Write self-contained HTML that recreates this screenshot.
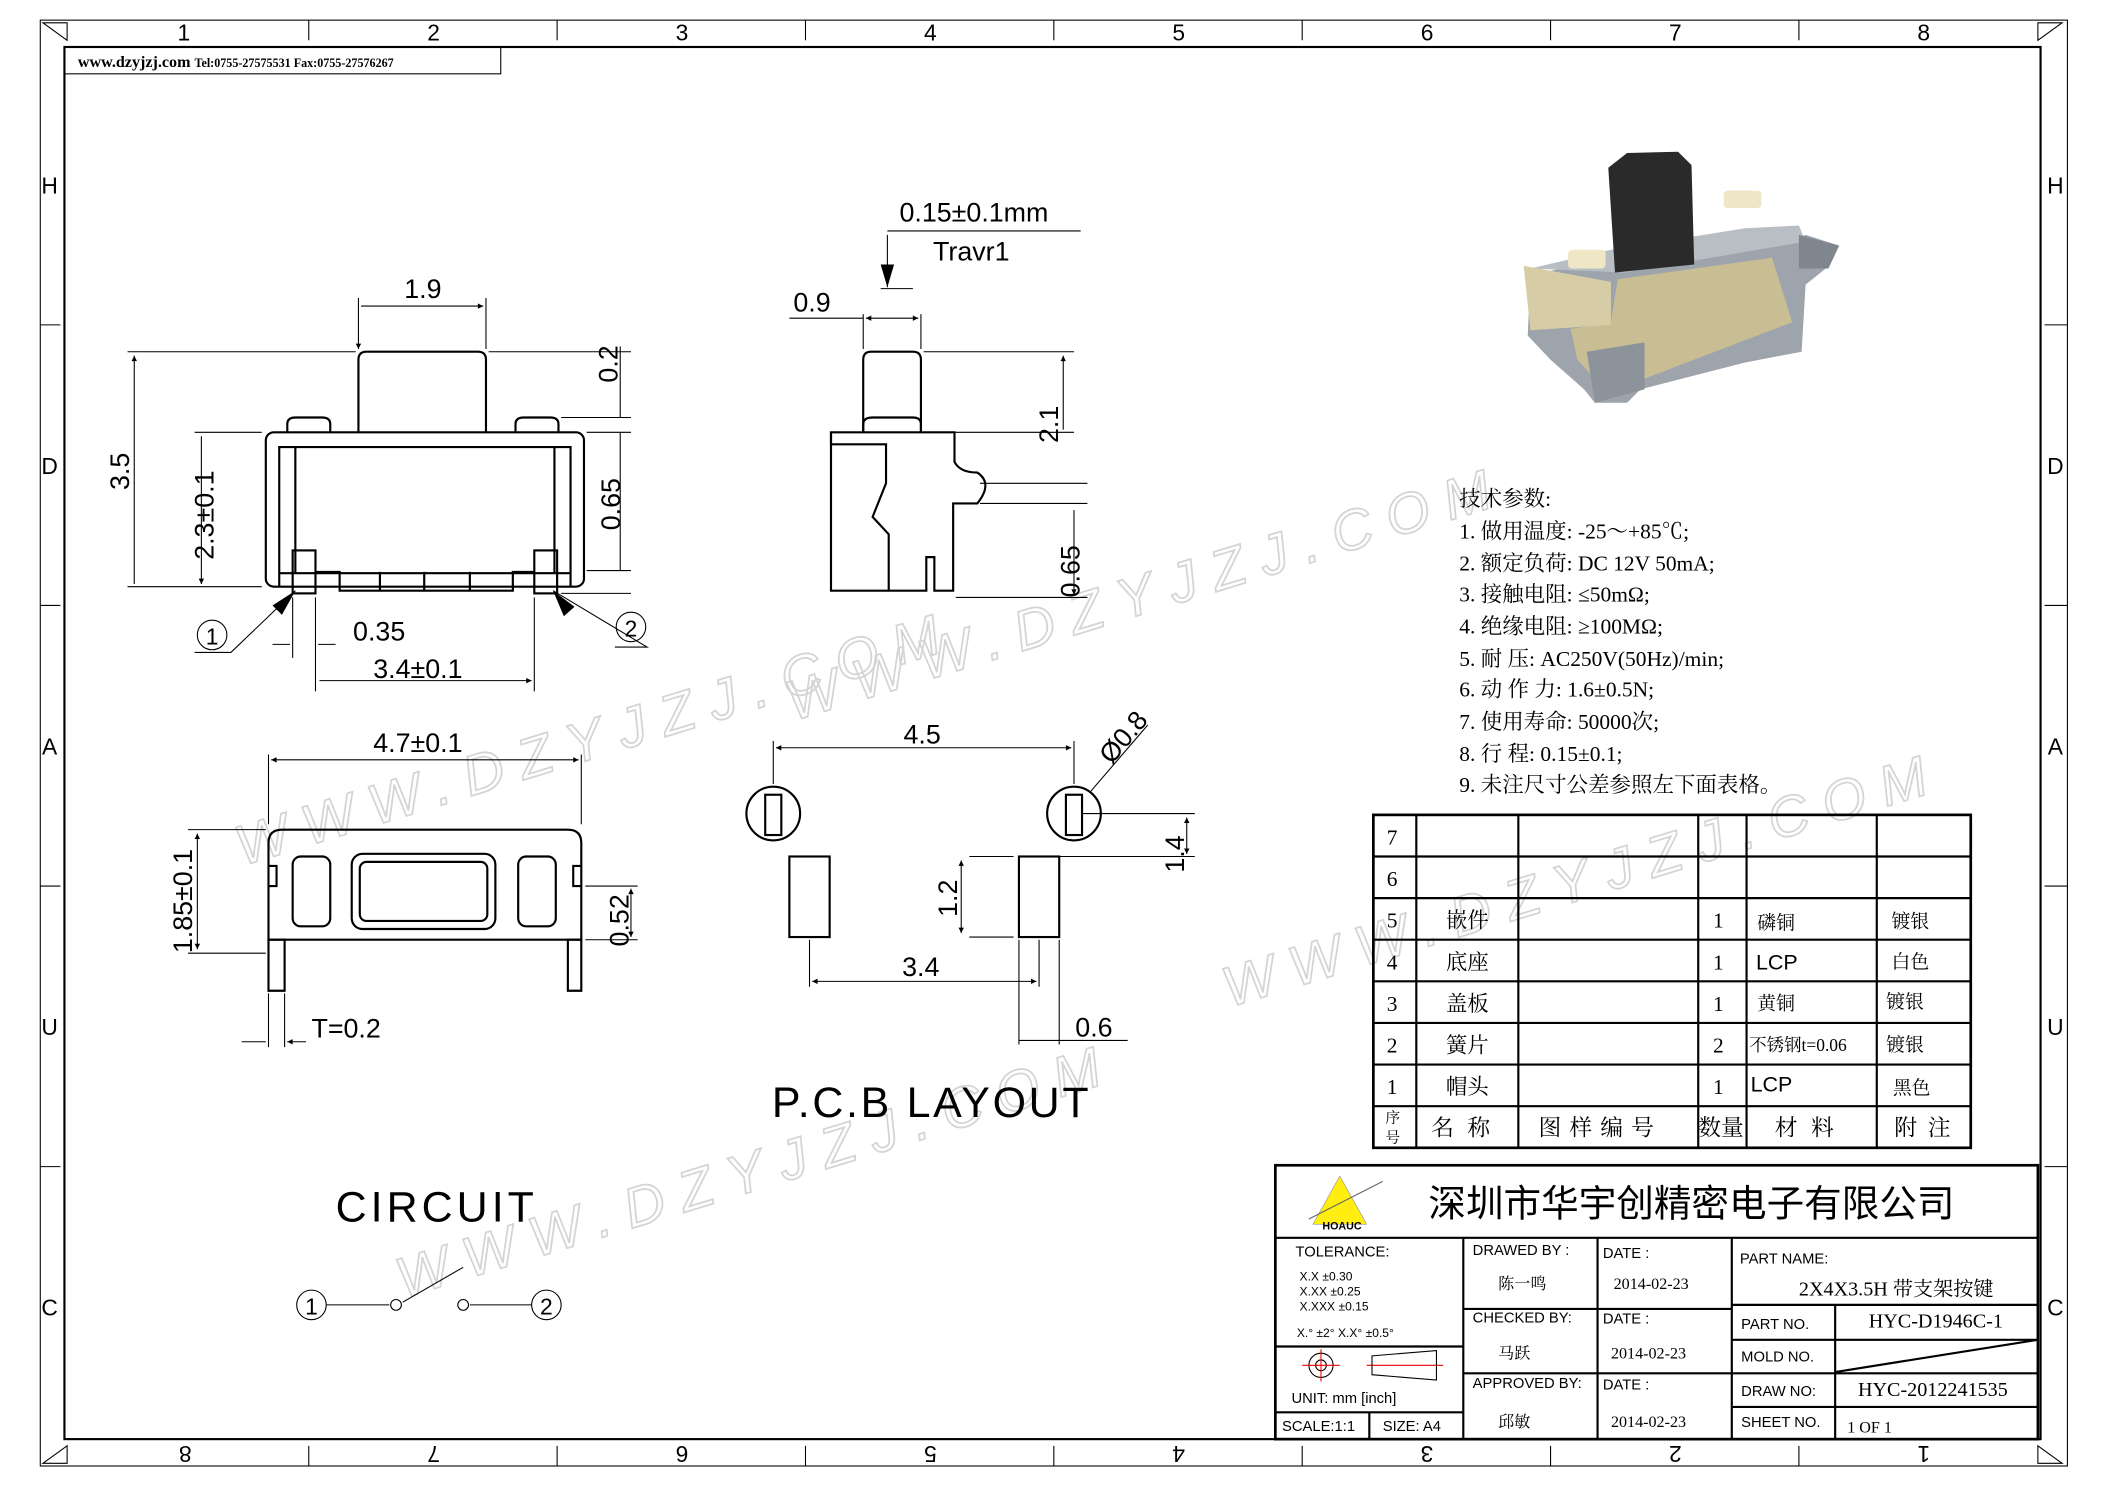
<!DOCTYPE html>
<html><head><meta charset="utf-8"><style>
html,body{margin:0;padding:0;background:#fff;}
svg{display:block}
text{font-family:"Liberation Sans","Noto Sans CJK SC",sans-serif;fill:#000}
.s text, text.s{font-family:"Liberation Serif","Noto Serif CJK SC",serif}
.ln{stroke:#000;fill:none;stroke-width:1.6}
.th{stroke:#000;fill:none;stroke-width:0.8}
text.wm{fill:none;stroke:#d4d4d4;stroke-width:1.3;font-family:"Liberation Sans",sans-serif;font-size:42px;letter-spacing:12px;font-style:italic}
</style></head><body>
<svg width="2105" height="1488" viewBox="0 0 1568 1108.4" preserveAspectRatio="none" xmlns="http://www.w3.org/2000/svg">
<defs><marker id="a" viewBox="0 0 10 10" refX="10" refY="5" markerWidth="8" markerHeight="5" orient="auto-start-reverse"><path d="M0,0L10,5L0,10z" fill="#000"/></marker></defs>
<!-- watermarks -->
<g transform="rotate(-17 450 500)"><text class="wm" x="150" y="560">WWW.DZYJZJ.COM</text></g>
<g transform="rotate(-17 800 400)"><text class="wm" x="560" y="470">WWW.DZYJZJ.COM</text></g>
<g transform="rotate(-17 600 750)"><text class="wm" x="250" y="870">WWW.DZYJZJ.COM</text></g>
<g transform="rotate(-17 1100 600)"><text class="wm" x="880" y="690">WWW.DZYJZJ.COM</text></g>
<!-- frame -->
<rect x="30" y="15" width="1510" height="1077" class="th"/>
<rect x="48" y="35" width="1472" height="1037" class="ln" stroke-width="2"/>
<path d="M32,17 L50,30 L50,17 z M1536,17 L1518,30 L1518,17z M32,1090 L50,1077 L50,1090z M1536,1090 L1518,1077 L1518,1090z" class="th"/>
<g class="th">
<path d="M230,15V30M415,15V30M600,15V30M785,15V30M970,15V30M1155,15V30M1340,15V30"/>
<path d="M230,1077V1092M415,1077V1092M600,1077V1092M785,1077V1092M970,1077V1092M1155,1077V1092M1340,1077V1092"/>
<path d="M30,242H45M30,451H45M30,660H45M30,869H45M1523,242H1540M1523,451H1540M1523,660H1540M1523,869H1540"/>
</g>
<g font-size="17" text-anchor="middle">
<text x="137" y="30">1</text><text x="323" y="30">2</text><text x="508" y="30">3</text><text x="693" y="30">4</text><text x="878" y="30">5</text><text x="1063" y="30">6</text><text x="1248" y="30">7</text><text x="1433" y="30">8</text>
<g transform="rotate(180 784 1083)"><text x="135" y="1089">1</text><text x="320" y="1089">2</text><text x="505" y="1089">3</text><text x="690" y="1089">4</text><text x="875" y="1089">5</text><text x="1060" y="1089">6</text><text x="1245" y="1089">7</text><text x="1430" y="1089">8</text></g>
<text x="37" y="144">H</text><text x="37" y="353">D</text><text x="37" y="562">A</text><text x="37" y="771">U</text><text x="37" y="980">C</text>
<text x="1531" y="144">H</text><text x="1531" y="353">D</text><text x="1531" y="562">A</text><text x="1531" y="771">U</text><text x="1531" y="980">C</text>
</g>
<rect x="48" y="35" width="325" height="20" class="th"/>
<text class="s" x="58" y="50" font-size="12" font-weight="bold">www.dzyjzj.com <tspan font-size="9">Tel:0755-27575531  Fax:0755-27576267</tspan></text>

<!-- top view -->
<g class="ln">
<path d="M267,322V268Q267,262 273,262H356Q362,262 362,268V322"/>
<path d="M214,322V316Q214,311 220,311H240Q246,311 246,316V322M384,322V316Q384,311 390,311H410Q416,311 416,316V322"/>
<rect x="198" y="322" width="237" height="115" rx="6"/>
<path d="M208,437V333H425V437" />
<path d="M220,333V427M413,333V427M208,427H425"/>
<rect x="218" y="410" width="17" height="32"/><rect x="398" y="410" width="17" height="32"/>
<path d="M235,426H253V440H382V426H398M283,426V440M350,426V440M316,426V440"/>
</g>
<g class="th">
<path d="M267,260V222M362,260V222M269,228H360" marker-start="url(#a)" marker-end="url(#a)"/>
<path d="M100,265V435M150,325V435" marker-start="url(#a)" marker-end="url(#a)"/>
<path d="M265,262H95M195,437H95M195,322H145"/>
<path d="M364,262H470M418,311H470M437,322H470M437,425H470M418,442H470"/>
<path d="M462,258V311M462,322V425"/>
<path d="M218,445V490M235,445V490M398,445V515M235,445V515"/>
<path d="M203,480H216M250,480H237M238,507H396" marker-end="url(#a)"/>
</g>
<text x="315" y="222" font-size="20" text-anchor="middle">1.9</text>
<text x="263" y="477" font-size="20">0.35</text>
<text x="278" y="505" font-size="20">3.4±0.1</text>
<text transform="translate(96,365) rotate(-90)" font-size="20">3.5</text>
<text transform="translate(159,417) rotate(-90)" font-size="20">2.3±0.1</text>
<text transform="translate(460,285) rotate(-90)" font-size="20">0.2</text>
<text transform="translate(462,395) rotate(-90)" font-size="20">0.65</text>
<circle cx="158" cy="473" r="11" class="th"/><text x="158" y="480" font-size="17" text-anchor="middle">1</text>
<circle cx="470" cy="467" r="11" class="th"/><text x="470" y="474" font-size="17" text-anchor="middle">2</text>
<path d="M145,486H172L220,440M458,482H482L412,440" class="th"/>
<path d="M220,440L210,458L203,451z M412,440L428,452L420,459z"/>

<!-- side view -->
<g class="ln">
<path d="M643,322V268Q643,262 649,262H680Q686,262 686,268V322"/>
<path d="M619,322H711V344Q715,352 728,352Q740,360 728,375H710V440H696V415H690V440H662V398L650,385L660,360V331H619Z"/>
<path d="M619,322V440H662M643,322V316Q643,311 650,311H680Q686,311 686,316V322"/>
</g>
<g class="th">
<path d="M645,237H684" marker-start="url(#a)" marker-end="url(#a)"/>
<path d="M643,260V234M686,260V234M588,237H643"/>
<path d="M688,262H800M690,322H800M730,360H810M730,375H810M712,445H810"/>
<path d="M792,265V320M800,380V443" marker-start="url(#a)" marker-end="url(#a)"/>
<path d="M656,215H680M661,175V214" /><path d="M661,172H805"/>
</g>
<path d="M656,197L666,197L661,214z"/>
<text x="670" y="165" font-size="20">0.15±0.1mm</text>
<text x="695" y="194" font-size="20">Travr1</text>
<text x="591" y="232" font-size="20">0.9</text>
<text transform="translate(788,330) rotate(-90)" font-size="20">2.1</text>
<text transform="translate(804,445) rotate(-90)" font-size="20">0.65</text>

<!-- front view bottom-left -->
<g class="ln">
<path d="M200,700V628Q200,618 210,618H423Q433,618 433,628V700Z"/>
<rect x="218" y="638" width="28" height="52" rx="6"/><rect x="386" y="638" width="28" height="52" rx="6"/>
<rect x="262" y="636" width="107" height="56" rx="8"/><rect x="268" y="642" width="95" height="44" rx="5"/>
<path d="M200,645H206V660H200M433,645H427V660H433"/>
<path d="M200,700H212V738H200ZM423,700H433V738H423Z"/>
</g>
<g class="th">
<path d="M202,566H431" marker-start="url(#a)" marker-end="url(#a)"/>
<path d="M200,614V562M433,614V562"/>
<path d="M147,621V707" marker-start="url(#a)" marker-end="url(#a)"/>
<path d="M198,618H140M198,710H140"/>
<path d="M470,662V698" marker-start="url(#a)" marker-end="url(#a)"/>
<path d="M436,660H475M436,700H475"/>
<path d="M200,740V780M212,740V780M180,776H198M228,776H214" marker-end="url(#a)"/>
</g>
<text x="278" y="560" font-size="20">4.7±0.1</text>
<text transform="translate(143,710) rotate(-90)" font-size="20">1.85±0.1</text>
<text transform="translate(468,705) rotate(-90)" font-size="20">0.52</text>
<text x="232" y="773" font-size="20">T=0.2</text>

<!-- PCB layout -->
<g class="ln">
<circle cx="576" cy="606" r="20"/><rect x="570" y="592" width="12" height="30"/>
<circle cx="800" cy="606" r="20"/><rect x="794" y="592" width="12" height="30"/>
<rect x="588" y="638" width="30" height="60"/><rect x="759" y="638" width="30" height="60"/>
</g>
<g class="th">
<path d="M578,557H798" marker-start="url(#a)" marker-end="url(#a)"/>
<path d="M576,584V552M800,584V552"/>
<path d="M812,590L855,540"/>
<path d="M884,609V636" marker-start="url(#a)" marker-end="url(#a)"/>
<path d="M806,606H890M789,638H890"/>
<path d="M716,641V695" marker-start="url(#a)" marker-end="url(#a)"/>
<path d="M722,638H755M722,698H755"/>
<path d="M605,731H772" marker-start="url(#a)" marker-end="url(#a)"/>
<path d="M603,700V735M774,700V735"/>
<path d="M759,700V778M789,700V778M759,775H840"/>
</g>
<text x="673" y="554" font-size="20">4.5</text>
<text transform="translate(828,570) rotate(-50)" font-size="20">Ø0.8</text>
<text transform="translate(882,650) rotate(-90)" font-size="20">1.4</text>
<text transform="translate(713,683) rotate(-90)" font-size="20">1.2</text>
<text x="672" y="727" font-size="20">3.4</text>
<text x="801" y="772" font-size="20">0.6</text>
<text x="575" y="832" font-size="32" letter-spacing="2">P.C.B LAYOUT</text>

<!-- circuit -->
<text x="250" y="910" font-size="32" letter-spacing="3">CIRCUIT</text>
<circle cx="232" cy="972" r="11" class="th"/><text x="232" y="979" font-size="17" text-anchor="middle">1</text>
<circle cx="407" cy="972" r="11" class="th"/><text x="407" y="979" font-size="17" text-anchor="middle">2</text>
<path d="M243,972H290M300,970L345,944M350,972H396" class="th"/>
<circle cx="295" cy="972" r="4" class="th"/><circle cx="345" cy="972" r="4" class="th"/>

<!-- 3D render -->
<g>
<path d="M1140,205L1200,192L1330,180L1345,175L1370,183L1360,200L1345,212L1342,262L1300,270L1222,290L1212,300L1188,300L1180,290L1155,268L1138,250Z" fill="#9ea4ac"/>
<path d="M1140,200L1200,186L1300,170L1340,168L1345,180L1210,203Z" fill="#b8bec4"/>
<path d="M1205,208L1320,192L1335,240L1225,282L1195,290L1175,268L1170,245L1200,240Z" fill="#c9bd94"/>
<path d="M1135,198L1200,210L1200,242L1140,246Z" fill="#d6cca6"/>
<rect x="1168" y="186" width="28" height="14" rx="3" fill="#efe6c6"/>
<rect x="1284" y="142" width="28" height="13" rx="3" fill="#efe6c6"/>
<path d="M1198,125L1212,114L1250,113L1260,123L1262,197L1203,203Z" fill="#2a2a2a"/>
<path d="M1340,175L1370,183L1362,200L1340,200Z" fill="#80868e"/>
<path d="M1182,262L1225,255L1225,290L1188,300Z" fill="#8d939b"/>
</g>

<!-- spec -->
<g class="s" font-size="16">
<text x="1087" y="377">技术参数:</text>
<text x="1087" y="401">1.  做用温度: -25～+85℃;</text>
<text x="1087" y="425">2.  额定负荷: DC 12V 50mA;</text>
<text x="1087" y="448">3.  接触电阻: ≤50mΩ;</text>
<text x="1087" y="472">4.  绝缘电阻: ≥100MΩ;</text>
<text x="1087" y="496">5.  耐      压: AC250V(50Hz)/min;</text>
<text x="1087" y="519">6.  动 作 力: 1.6±0.5N;</text>
<text x="1087" y="543">7.  使用寿命: 50000次;</text>
<text x="1087" y="567">8.  行      程: 0.15±0.1;</text>
<text x="1087" y="590">9.  未注尺寸公差参照左下面表格。</text>
</g>

<!-- BOM table -->
<g class="ln">
<rect x="1023" y="607" width="445" height="248" stroke-width="2"/>
<path d="M1023,638H1468M1023,669H1468M1023,700H1468M1023,731H1468M1023,762H1468M1023,793H1468M1023,824H1468"/>
<path d="M1055,607V855M1131,607V855M1265,607V855M1301,607V855M1398,607V855"/>
</g>
<g class="s" font-size="16">
<text x="1033" y="629">7</text><text x="1033" y="660">6</text><text x="1033" y="691">5</text><text x="1033" y="722">4</text><text x="1033" y="753">3</text><text x="1033" y="784">2</text><text x="1033" y="815">1</text>
<text x="1077" y="691">嵌件</text><text x="1077" y="722">底座</text><text x="1077" y="753">盖板</text><text x="1077" y="784">簧片</text><text x="1077" y="815">帽头</text>
<text x="1276" y="691">1</text><text x="1276" y="722">1</text><text x="1276" y="753">1</text><text x="1276" y="784">2</text><text x="1276" y="815">1</text>
<text x="1309" y="692" font-size="14">磷铜</text><text x="1308" y="722" style="font-family:'Liberation Sans',sans-serif">LCP</text><text x="1309" y="752" font-size="14">黄铜</text><text x="1303" y="783" font-size="13">不锈钢t=0.06</text><text x="1304" y="813" style="font-family:'Liberation Sans',sans-serif">LCP</text>
<text x="1409" y="691" font-size="14">镀银</text><text x="1409" y="721" font-size="14">白色</text><text x="1405" y="751" font-size="14">镀银</text><text x="1405" y="783" font-size="14">镀银</text><text x="1410" y="815" font-size="14">黑色</text>
<text x="1032" y="836" font-size="11">序</text><text x="1032" y="851" font-size="11">号</text>
<text x="1066" y="846" font-size="17" letter-spacing="10">名称</text>
<text x="1146" y="846" font-size="17" letter-spacing="6">图样编号</text>
<text x="1265" y="846" font-size="17">数量</text>
<text x="1322" y="846" font-size="17" letter-spacing="10">材料</text>
<text x="1411" y="846" font-size="17" letter-spacing="8">附注</text>
</g>

<!-- title block -->
<g class="ln">
<rect x="950" y="868" width="568" height="204" stroke-width="2"/>
<path d="M950,922H1518M1090,922V1072M1190,922V1072M1290,922V1072"/>
<path d="M1090,975H1290M1090,1023H1290M950,1003H1090M950,1052H1090M1020,1052V1072"/>
<path d="M1290,972H1518M1290,998H1518M1290,1023H1518M1290,1048H1518M1367,972V1072M1367,1022L1518,998"/>
</g>
<path d="M998,876L1018,912H978Z" fill="#ffee10" stroke="#999" stroke-width=".5"/>
<path d="M975,908L1030,880" stroke="#666" stroke-width=".8"/>
<text x="985" y="916" font-size="8" font-weight="bold">HOAUC</text>
<text x="1064" y="906" font-size="28">深圳市华宇创精密电子有限公司</text>
<g font-size="11">
<text x="965" y="936">TOLERANCE:</text>
<text x="968" y="954" font-size="9">X.X      ±0.30</text>
<text x="968" y="965" font-size="9">X.XX    ±0.25</text>
<text x="968" y="976" font-size="9">X.XXX  ±0.15</text>
<text x="966" y="996" font-size="9">X.° ±2°       X.X° ±0.5°</text>
<text x="962" y="1045">UNIT:  mm  [inch]</text>
<text x="955" y="1066">SCALE:1:1</text><text x="1030" y="1066">SIZE:  A4</text>
<text x="1097" y="935">DRAWED  BY :</text><text x="1097" y="985">CHECKED  BY:</text><text x="1097" y="1034">APPROVED  BY:</text>
<text x="1194" y="937">DATE  :</text><text x="1194" y="986">DATE  :</text><text x="1194" y="1035">DATE  :</text>
<text x="1296" y="941">PART  NAME:</text><text x="1297" y="990">PART  NO.</text><text x="1297" y="1014">MOLD  NO.</text><text x="1297" y="1040">DRAW  NO:</text><text x="1297" y="1063">SHEET  NO.</text>
</g>
<g class="s" font-size="12">
<text x="1116" y="960">陈一鸣</text><text x="1116" y="1012">马跃</text><text x="1116" y="1063">邱敏</text>
<text x="1202" y="960">2014-02-23</text><text x="1200" y="1012">2014-02-23</text><text x="1200" y="1063">2014-02-23</text>
<text x="1340" y="965" font-size="15">2X4X3.5H 带支架按键</text>
<text x="1392" y="989" font-size="15">HYC-D1946C-1</text>
<text x="1384" y="1040" font-size="15">HYC-2012241535</text>
<text x="1376" y="1067">1 OF 1</text>
</g>
<circle cx="984" cy="1017" r="9" class="th"/><circle cx="984" cy="1017" r="4" class="th"/>
<path d="M970,1017H998M984,1005V1029M1018,1017H1075" stroke="#e00" stroke-width=".8"/>
<path d="M1022,1010L1070,1006V1028L1022,1024Z" class="th"/>
</svg>
</body></html>
